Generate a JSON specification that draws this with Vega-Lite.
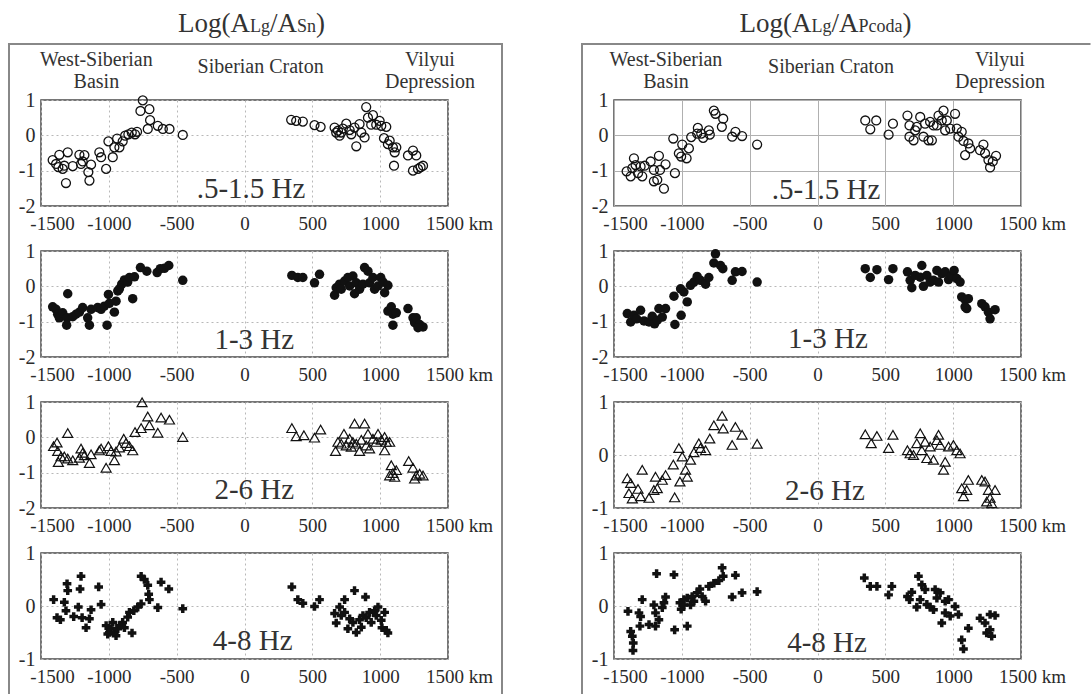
{
"$schema": "https://vega.github.io/schema/vega-lite/v6.json",
"autosize": {"type": "pad"},
"padding": 0,
"background": "white",
"datasets": {
"sn1": [{"d":-1414,"v":-0.70},{"d":-1389,"v":-0.81},{"d":-1372,"v":-0.90},{"d":-1340,"v":-0.95},{"d":-1316,"v":-1.35},{"d":-1365,"v":-0.55},{"d":-1303,"v":-0.48},{"d":-1328,"v":-0.86},{"d":-1266,"v":-0.87},{"d":-1217,"v":-0.55},{"d":-1205,"v":-0.81},{"d":-1180,"v":-0.56},{"d":-1193,"v":-0.74},{"d":-1151,"v":-1.04},{"d":-1143,"v":-1.28},{"d":-1131,"v":-0.83},{"d":-1070,"v":-0.48},{"d":-1057,"v":-0.62},{"d":-1020,"v":-0.95},{"d":-1003,"v":-0.17},{"d":-971,"v":-0.62},{"d":-959,"v":-0.34},{"d":-939,"v":-0.09},{"d":-922,"v":-0.34},{"d":-898,"v":-0.17},{"d":-880,"v":-0.01},{"d":-856,"v":0.03},{"d":-831,"v":0.08},{"d":-807,"v":0.03},{"d":-792,"v":0.10},{"d":-767,"v":0.69},{"d":-750,"v":0.99},{"d":-701,"v":0.74},{"d":-713,"v":0.18},{"d":-696,"v":0.43},{"d":-639,"v":0.27},{"d":-602,"v":0.18},{"d":-553,"v":0.18},{"d":-455,"v":0.01},{"d":344,"v":0.44},{"d":381,"v":0.41},{"d":430,"v":0.39},{"d":516,"v":0.29},{"d":561,"v":0.24},{"d":664,"v":0.22},{"d":689,"v":0.13},{"d":701,"v":-0.01},{"d":725,"v":0.19},{"d":750,"v":0.33},{"d":775,"v":0.15},{"d":787,"v":0.03},{"d":811,"v":0.22},{"d":824,"v":-0.31},{"d":848,"v":0.32},{"d":861,"v":0.08},{"d":885,"v":-0.06},{"d":897,"v":0.80},{"d":910,"v":0.50},{"d":934,"v":0.30},{"d":947,"v":0.57},{"d":971,"v":0.30},{"d":996,"v":0.41},{"d":1008,"v":0.27},{"d":1028,"v":-0.08},{"d":1045,"v":0.24},{"d":1057,"v":-0.25},{"d":1070,"v":-0.15},{"d":1094,"v":-0.34},{"d":1107,"v":-0.48},{"d":1102,"v":-0.86},{"d":1119,"v":-0.34},{"d":1205,"v":-0.57},{"d":1242,"v":-0.43},{"d":1266,"v":-0.57},{"d":1242,"v":-1.00},{"d":1279,"v":-0.95},{"d":1298,"v":-0.90},{"d":1316,"v":-0.86},{"d":713,"v":0.08},{"d":676,"v":0.08}],
"sn2": [{"d":-1414,"v":-0.58},{"d":-1389,"v":-0.65},{"d":-1377,"v":-0.79},{"d":-1365,"v":-0.89},{"d":-1340,"v":-0.75},{"d":-1308,"v":-0.89},{"d":-1303,"v":-0.21},{"d":-1311,"v":-1.10},{"d":-1266,"v":-0.86},{"d":-1242,"v":-0.79},{"d":-1217,"v":-0.73},{"d":-1193,"v":-0.60},{"d":-1156,"v":-0.89},{"d":-1143,"v":-1.10},{"d":-1131,"v":-0.65},{"d":-1082,"v":-0.60},{"d":-1057,"v":-0.65},{"d":-1033,"v":-0.56},{"d":-1013,"v":-1.10},{"d":-1003,"v":-0.23},{"d":-996,"v":-0.48},{"d":-959,"v":-0.73},{"d":-947,"v":-0.42},{"d":-934,"v":-0.13},{"d":-922,"v":-0.07},{"d":-905,"v":0.06},{"d":-885,"v":0.18},{"d":-861,"v":0.12},{"d":-848,"v":0.25},{"d":-824,"v":-0.35},{"d":-811,"v":0.27},{"d":-767,"v":0.53},{"d":-720,"v":0.43},{"d":-644,"v":0.39},{"d":-620,"v":0.50},{"d":-590,"v":0.51},{"d":-558,"v":0.59},{"d":-455,"v":0.17},{"d":349,"v":0.31},{"d":393,"v":0.25},{"d":430,"v":0.25},{"d":516,"v":0.10},{"d":553,"v":0.34},{"d":664,"v":-0.25},{"d":676,"v":-0.04},{"d":701,"v":0.06},{"d":713,"v":-0.08},{"d":738,"v":0.15},{"d":762,"v":0.25},{"d":775,"v":0.01},{"d":799,"v":0.29},{"d":811,"v":-0.21},{"d":824,"v":0.10},{"d":848,"v":-0.08},{"d":873,"v":0.06},{"d":885,"v":0.53},{"d":910,"v":0.43},{"d":922,"v":0.10},{"d":947,"v":0.25},{"d":959,"v":-0.08},{"d":984,"v":0.01},{"d":1004,"v":0.25},{"d":1021,"v":0.12},{"d":1033,"v":-0.18},{"d":1057,"v":0.03},{"d":1057,"v":-0.70},{"d":1082,"v":-0.58},{"d":1094,"v":-0.79},{"d":1094,"v":-1.10},{"d":1119,"v":-0.75},{"d":1205,"v":-0.63},{"d":1242,"v":-0.89},{"d":1254,"v":-1.03},{"d":1266,"v":-0.89},{"d":1291,"v":-1.08},{"d":1316,"v":-1.15},{"d":1279,"v":-1.17}],
"sn3": [{"d":-1407,"v":-0.25},{"d":-1382,"v":-0.15},{"d":-1377,"v":-0.39},{"d":-1352,"v":-0.54},{"d":-1372,"v":-0.70},{"d":-1303,"v":0.12},{"d":-1328,"v":-0.54},{"d":-1303,"v":-0.60},{"d":-1266,"v":-0.65},{"d":-1217,"v":-0.58},{"d":-1205,"v":-0.32},{"d":-1180,"v":-0.51},{"d":-1193,"v":-0.44},{"d":-1143,"v":-0.73},{"d":-1131,"v":-0.48},{"d":-1070,"v":-0.37},{"d":-1057,"v":-0.32},{"d":-1020,"v":-0.86},{"d":-1003,"v":-0.25},{"d":-984,"v":-0.39},{"d":-959,"v":-0.65},{"d":-947,"v":-0.40},{"d":-922,"v":-0.29},{"d":-890,"v":-0.04},{"d":-873,"v":-0.16},{"d":-824,"v":-0.37},{"d":-848,"v":-0.25},{"d":-807,"v":0.15},{"d":-762,"v":0.26},{"d":-755,"v":0.99},{"d":-713,"v":0.59},{"d":-701,"v":0.34},{"d":-639,"v":0.13},{"d":-615,"v":0.56},{"d":-553,"v":0.50},{"d":-455,"v":0.01},{"d":349,"v":0.26},{"d":381,"v":0.03},{"d":438,"v":0.06},{"d":516,"v":-0.01},{"d":561,"v":0.22},{"d":671,"v":-0.39},{"d":689,"v":-0.13},{"d":713,"v":-0.18},{"d":733,"v":0.10},{"d":750,"v":-0.23},{"d":775,"v":-0.04},{"d":787,"v":-0.27},{"d":811,"v":0.39},{"d":824,"v":-0.18},{"d":848,"v":-0.39},{"d":861,"v":-0.07},{"d":885,"v":0.39},{"d":897,"v":-0.23},{"d":910,"v":0.10},{"d":922,"v":-0.32},{"d":947,"v":-0.04},{"d":971,"v":-0.13},{"d":984,"v":0.10},{"d":1008,"v":-0.07},{"d":1033,"v":-0.37},{"d":1045,"v":-0.13},{"d":1070,"v":-0.13},{"d":1082,"v":-0.79},{"d":1094,"v":-1.01},{"d":1119,"v":-0.93},{"d":1070,"v":-1.08},{"d":1107,"v":-1.12},{"d":1210,"v":-0.67},{"d":1242,"v":-0.86},{"d":1266,"v":-1.08},{"d":1291,"v":-1.03},{"d":1316,"v":-1.08},{"d":1254,"v":-1.17},{"d":1033,"v":0.01},{"d":799,"v":-0.13}],
"sn4": [{"d":-1407,"v":0.12},{"d":-1382,"v":-0.22},{"d":-1357,"v":-0.26},{"d":-1328,"v":0.07},{"d":-1308,"v":0.42},{"d":-1303,"v":0.29},{"d":-1316,"v":-0.09},{"d":-1259,"v":-0.20},{"d":-1225,"v":-0.02},{"d":-1205,"v":0.56},{"d":-1212,"v":0.32},{"d":-1197,"v":-0.22},{"d":-1168,"v":-0.41},{"d":-1143,"v":-0.24},{"d":-1131,"v":-0.07},{"d":-1075,"v":0.36},{"d":-1057,"v":0.03},{"d":-1020,"v":-0.37},{"d":-1008,"v":-0.53},{"d":-984,"v":-0.43},{"d":-971,"v":-0.31},{"d":-959,"v":-0.50},{"d":-934,"v":-0.43},{"d":-922,"v":-0.37},{"d":-898,"v":-0.31},{"d":-885,"v":-0.41},{"d":-861,"v":-0.21},{"d":-848,"v":-0.12},{"d":-829,"v":-0.51},{"d":-816,"v":-0.09},{"d":-787,"v":-0.02},{"d":-762,"v":0.04},{"d":-762,"v":0.56},{"d":-738,"v":0.50},{"d":-713,"v":0.39},{"d":-706,"v":0.22},{"d":-701,"v":0.12},{"d":-639,"v":-0.03},{"d":-615,"v":0.45},{"d":-558,"v":0.32},{"d":-455,"v":-0.05},{"d":-996,"v":-0.50},{"d":-947,"v":-0.56},{"d":349,"v":0.36},{"d":393,"v":0.12},{"d":430,"v":0.05},{"d":516,"v":-0.01},{"d":553,"v":0.12},{"d":664,"v":-0.14},{"d":676,"v":-0.32},{"d":701,"v":-0.02},{"d":713,"v":-0.18},{"d":738,"v":0.12},{"d":762,"v":-0.43},{"d":775,"v":-0.24},{"d":799,"v":-0.31},{"d":811,"v":0.29},{"d":824,"v":-0.50},{"d":848,"v":-0.26},{"d":861,"v":-0.40},{"d":873,"v":-0.18},{"d":892,"v":0.17},{"d":897,"v":-0.22},{"d":922,"v":-0.12},{"d":934,"v":-0.31},{"d":959,"v":-0.09},{"d":984,"v":-0.02},{"d":1008,"v":-0.27},{"d":1033,"v":-0.12},{"d":1013,"v":-0.41},{"d":1045,"v":-0.46},{"d":1057,"v":-0.51},{"d":971,"v":-0.18},{"d":738,"v":-0.12}],
"pc1": [{"d":-1407,"v":-1.02},{"d":-1377,"v":-1.16},{"d":-1365,"v":-0.93},{"d":-1353,"v":-0.65},{"d":-1341,"v":-0.84},{"d":-1323,"v":-1.07},{"d":-1304,"v":-0.88},{"d":-1292,"v":-1.16},{"d":-1274,"v":-0.86},{"d":-1230,"v":-0.74},{"d":-1206,"v":-0.98},{"d":-1206,"v":-1.30},{"d":-1181,"v":-1.26},{"d":-1169,"v":-0.58},{"d":-1161,"v":-0.98},{"d":-1132,"v":-1.51},{"d":-1120,"v":-0.82},{"d":-1051,"v":-1.07},{"d":-1063,"v":-0.09},{"d":-1022,"v":-0.51},{"d":-997,"v":-0.26},{"d":-1005,"v":-0.60},{"d":-965,"v":-0.65},{"d":-948,"v":-0.37},{"d":-931,"v":-0.05},{"d":-887,"v":0.05},{"d":-882,"v":0.21},{"d":-857,"v":0.05},{"d":-843,"v":-0.07},{"d":-794,"v":0.02},{"d":-801,"v":0.14},{"d":-764,"v":0.70},{"d":-752,"v":0.61},{"d":-695,"v":0.47},{"d":-705,"v":0.24},{"d":-629,"v":-0.04},{"d":-605,"v":0.10},{"d":-556,"v":-0.02},{"d":-445,"v":-0.26},{"d":352,"v":0.42},{"d":389,"v":0.17},{"d":433,"v":0.42},{"d":524,"v":0.02},{"d":556,"v":0.33},{"d":663,"v":0.56},{"d":678,"v":0.28},{"d":678,"v":-0.04},{"d":708,"v":-0.14},{"d":720,"v":0.14},{"d":757,"v":0.52},{"d":781,"v":-0.04},{"d":793,"v":0.33},{"d":818,"v":-0.14},{"d":843,"v":-0.14},{"d":830,"v":0.38},{"d":855,"v":0.28},{"d":892,"v":0.56},{"d":916,"v":0.42},{"d":929,"v":0.70},{"d":953,"v":0.42},{"d":941,"v":0.14},{"d":978,"v":0.19},{"d":1014,"v":0.61},{"d":1027,"v":0.19},{"d":1039,"v":-0.04},{"d":1063,"v":0.10},{"d":1076,"v":-0.16},{"d":1088,"v":-0.56},{"d":1112,"v":-0.23},{"d":1125,"v":-0.37},{"d":1198,"v":-0.42},{"d":1223,"v":-0.26},{"d":1235,"v":-0.51},{"d":1260,"v":-0.70},{"d":1272,"v":-0.91},{"d":1292,"v":-0.74},{"d":1316,"v":-0.58},{"d":732,"v":0.24},{"d":880,"v":0.28}],
"pc2": [{"d":-1402,"v":-0.77},{"d":-1377,"v":-1.01},{"d":-1353,"v":-0.82},{"d":-1333,"v":-0.92},{"d":-1304,"v":-0.68},{"d":-1279,"v":-0.98},{"d":-1242,"v":-1.01},{"d":-1218,"v":-0.85},{"d":-1201,"v":-1.06},{"d":-1181,"v":-0.96},{"d":-1169,"v":-0.63},{"d":-1144,"v":-0.87},{"d":-1120,"v":-0.63},{"d":-1058,"v":-0.28},{"d":-1051,"v":-1.08},{"d":-1009,"v":-0.07},{"d":-1005,"v":-0.82},{"d":-985,"v":-0.16},{"d":-960,"v":-0.44},{"d":-936,"v":0.03},{"d":-911,"v":0.12},{"d":-887,"v":0.28},{"d":-863,"v":0.17},{"d":-825,"v":0.06},{"d":-801,"v":0.25},{"d":-752,"v":0.92},{"d":-764,"v":0.66},{"d":-715,"v":0.59},{"d":-698,"v":0.50},{"d":-629,"v":0.17},{"d":-605,"v":0.41},{"d":-556,"v":0.42},{"d":-445,"v":0.12},{"d":352,"v":0.50},{"d":389,"v":0.25},{"d":438,"v":0.47},{"d":524,"v":0.19},{"d":556,"v":0.50},{"d":663,"v":0.41},{"d":683,"v":0.17},{"d":695,"v":-0.04},{"d":720,"v":0.31},{"d":757,"v":0.26},{"d":769,"v":0.59},{"d":781,"v":0.00},{"d":806,"v":0.31},{"d":830,"v":0.12},{"d":855,"v":0.17},{"d":880,"v":0.45},{"d":892,"v":0.12},{"d":916,"v":0.36},{"d":941,"v":0.41},{"d":966,"v":0.19},{"d":990,"v":0.31},{"d":1007,"v":0.45},{"d":1027,"v":0.22},{"d":1051,"v":0.12},{"d":1063,"v":-0.30},{"d":1088,"v":-0.38},{"d":1100,"v":-0.63},{"d":1112,"v":-0.35},{"d":1211,"v":-0.49},{"d":1235,"v":-0.58},{"d":1260,"v":-0.73},{"d":1272,"v":-0.92},{"d":1309,"v":-0.66},{"d":1088,"v":-0.58}],
"pc3": [{"d":-1402,"v":-0.44},{"d":-1377,"v":-0.53},{"d":-1390,"v":-0.72},{"d":-1365,"v":-0.82},{"d":-1323,"v":-0.64},{"d":-1292,"v":-0.28},{"d":-1304,"v":-0.78},{"d":-1242,"v":-0.81},{"d":-1206,"v":-0.66},{"d":-1194,"v":-0.41},{"d":-1181,"v":-0.63},{"d":-1144,"v":-0.47},{"d":-1120,"v":-0.38},{"d":-1063,"v":-0.18},{"d":-1053,"v":-0.80},{"d":-1022,"v":0.13},{"d":-1014,"v":-0.50},{"d":-997,"v":-0.03},{"d":-973,"v":-0.28},{"d":-960,"v":-0.41},{"d":-936,"v":-0.09},{"d":-911,"v":0.05},{"d":-875,"v":0.22},{"d":-863,"v":0.13},{"d":-825,"v":0.09},{"d":-794,"v":0.31},{"d":-764,"v":0.56},{"d":-703,"v":0.74},{"d":-695,"v":0.50},{"d":-605,"v":0.53},{"d":-629,"v":0.19},{"d":-556,"v":0.38},{"d":-445,"v":0.21},{"d":352,"v":0.39},{"d":396,"v":0.22},{"d":438,"v":0.36},{"d":524,"v":0.13},{"d":556,"v":0.38},{"d":663,"v":0.09},{"d":683,"v":0.03},{"d":708,"v":0.00},{"d":732,"v":0.22},{"d":757,"v":0.41},{"d":769,"v":0.09},{"d":793,"v":0.25},{"d":806,"v":-0.06},{"d":830,"v":0.16},{"d":855,"v":-0.09},{"d":880,"v":0.28},{"d":892,"v":0.38},{"d":904,"v":0.19},{"d":929,"v":-0.28},{"d":941,"v":-0.13},{"d":966,"v":0.16},{"d":1002,"v":0.19},{"d":1027,"v":0.09},{"d":1051,"v":0.03},{"d":1063,"v":-0.63},{"d":1076,"v":-0.78},{"d":1112,"v":-0.47},{"d":1100,"v":-0.66},{"d":1211,"v":-0.47},{"d":1235,"v":-0.50},{"d":1260,"v":-0.66},{"d":1272,"v":-0.81},{"d":1284,"v":-0.91},{"d":1309,"v":-0.66},{"d":1247,"v":-0.88}],
"pc4": [{"d":-1397,"v":-0.10},{"d":-1377,"v":-0.48},{"d":-1365,"v":-0.57},{"d":-1358,"v":-0.70},{"d":-1360,"v":-0.84},{"d":-1316,"v":-0.13},{"d":-1304,"v":-0.20},{"d":-1292,"v":0.12},{"d":-1309,"v":-0.38},{"d":-1242,"v":-0.35},{"d":-1206,"v":0.02},{"d":-1194,"v":-0.13},{"d":-1186,"v":0.61},{"d":-1194,"v":-0.38},{"d":-1169,"v":-0.26},{"d":-1144,"v":-0.03},{"d":-1120,"v":0.17},{"d":-1132,"v":0.06},{"d":-1058,"v":0.59},{"d":-1053,"v":-0.45},{"d":-960,"v":-0.38},{"d":-1014,"v":0.06},{"d":-1005,"v":-0.06},{"d":-985,"v":0.02},{"d":-960,"v":0.15},{"d":-936,"v":0.02},{"d":-924,"v":0.18},{"d":-887,"v":0.25},{"d":-867,"v":0.32},{"d":-850,"v":0.18},{"d":-825,"v":0.09},{"d":-801,"v":0.37},{"d":-764,"v":0.43},{"d":-727,"v":0.48},{"d":-703,"v":0.72},{"d":-695,"v":0.56},{"d":-629,"v":0.17},{"d":-605,"v":0.58},{"d":-556,"v":0.25},{"d":-445,"v":0.27},{"d":-985,"v":0.12},{"d":-911,"v":0.09},{"d":345,"v":0.53},{"d":389,"v":0.37},{"d":438,"v":0.37},{"d":524,"v":0.21},{"d":548,"v":0.37},{"d":663,"v":0.18},{"d":678,"v":0.12},{"d":695,"v":0.26},{"d":732,"v":-0.02},{"d":744,"v":0.56},{"d":757,"v":0.12},{"d":769,"v":0.40},{"d":793,"v":0.31},{"d":806,"v":0.03},{"d":830,"v":-0.02},{"d":855,"v":-0.07},{"d":867,"v":0.31},{"d":880,"v":0.15},{"d":904,"v":0.25},{"d":916,"v":-0.32},{"d":941,"v":-0.13},{"d":966,"v":0.12},{"d":978,"v":-0.19},{"d":1014,"v":-0.01},{"d":1039,"v":-0.16},{"d":1063,"v":-0.64},{"d":1076,"v":-0.81},{"d":1112,"v":-0.42},{"d":1198,"v":-0.23},{"d":1235,"v":-0.32},{"d":1247,"v":-0.51},{"d":1272,"v":-0.45},{"d":1284,"v":-0.57},{"d":1309,"v":-0.18},{"d":1272,"v":-0.16},{"d":941,"v":0.09}]
},
"concat": [
{"width":407,"height":106,"layer":[
 {"data":{"name":"sn1"},"mark":{"type":"point","shape":"circle","filled":false,"stroke":"#111","strokeWidth":1.3,"size":80,"opacity":1},
  "encoding":{"x":{"field":"d","type":"quantitative","title":null,"scale":{"domain":[-1500,1500],"nice":false,"zero":false},"axis":{"values":[-1500,-1000,-500,0,500,1000,1500],"labelExpr":"datum.value == 1500 ? '1500 km' : '' + datum.value","labelOffset":{"condition":{"test":"abs(datum.value) == 1500","value":11},"value":0}}},
   "y":{"field":"v","type":"quantitative","title":null,"scale":{"domain":[-2,1],"nice":false,"zero":false},"axis":{"values":[-2,-1,0,1],"labelExpr":"'' + datum.value"}}}},
 {"data":{"values":[{}]},"mark":{"type":"text","text":".5-1.5 Hz","fontSize":29},"encoding":{"x":{"datum":48},"y":{"datum":-1.774}}},
 {"data":{"values":[{}]},"mark":{"type":"text","text":["West-Siberian","Basin"],"fontSize":20,"lineHeight":22},"encoding":{"x":{"datum":-1092},"y":{"datum":1.962}}},
 {"data":{"values":[{}]},"mark":{"type":"text","text":"Siberian Craton","fontSize":20},"encoding":{"x":{"datum":119},"y":{"datum":1.773}}},
 {"data":{"values":[{}]},"mark":{"type":"text","text":["Vilyui","Depression"],"fontSize":20,"lineHeight":22},"encoding":{"x":{"datum":1367},"y":{"datum":1.962}}},
 {"data":{"values":[{}]},"mark":{"type":"text","text":"Log(A","fontSize":27,"align":"left"},"encoding":{"x":{"datum":-490},"y":{"datum":2.925}}},
 {"data":{"values":[{}]},"mark":{"type":"text","text":"Lg","fontSize":18,"align":"left"},"encoding":{"x":{"datum":40},"y":{"datum":2.925}}},
 {"data":{"values":[{}]},"mark":{"type":"text","text":"/A","fontSize":27,"align":"left"},"encoding":{"x":{"datum":188},"y":{"datum":2.925}}},
 {"data":{"values":[{}]},"mark":{"type":"text","text":"Sn","fontSize":18,"align":"left"},"encoding":{"x":{"datum":387},"y":{"datum":2.925}}},
 {"data":{"values":[{}]},"mark":{"type":"text","text":")","fontSize":27,"align":"left"},"encoding":{"x":{"datum":527},"y":{"datum":2.925}}},
 {"data":{"values":[{}]},"mark":"rule","encoding":{"x":{"datum":-1736},"y":{"datum":2.585},"y2":{"datum":-2.651}}},
 {"data":{"values":[{}]},"mark":"rule","encoding":{"x":{"datum":1898},"y":{"datum":2.585},"y2":{"datum":-2.651}}},
 {"data":{"values":[{}]},"mark":"rule","encoding":{"x":{"datum":-1736},"x2":{"datum":1898},"y":{"datum":2.585}}},
 {"data":{"values":[{}]},"mark":{"type":"rule","color":"white","strokeWidth":0.2,"strokeCap":"butt"},"encoding":{"x":{"datum":-1795},"x2":{"datum":-1790},"y":{"datum":3.802}}}
]},
{"width":407,"height":106,"layer":[
 {"data":{"name":"pc1"},"mark":{"type":"point","shape":"circle","filled":false,"stroke":"#111","strokeWidth":1.3,"size":80,"opacity":1},
  "encoding":{"x":{"field":"d","type":"quantitative","title":null,"scale":{"domain":[-1500,1500],"nice":false,"zero":false},"axis":{"values":[-1500,-1000,-500,0,500,1000,1500],"gridDash":[],"gridColor":"#b0b0b0","labelExpr":"datum.value == 1500 ? '1500 km' : '' + datum.value","labelOffset":{"condition":{"test":"abs(datum.value) == 1500","value":11},"value":0}}},
   "y":{"field":"v","type":"quantitative","title":null,"scale":{"domain":[-2,1],"nice":false,"zero":false},"axis":{"values":[-2,-1,0,1],"gridDash":[],"gridColor":"#b0b0b0","labelExpr":"'' + datum.value"}}}},
 {"data":{"values":[{}]},"mark":{"type":"text","text":".5-1.5 Hz","fontSize":29},"encoding":{"x":{"datum":63},"y":{"datum":-1.79}}},
 {"data":{"values":[{}]},"mark":{"type":"text","text":["West-Siberian","Basin"],"fontSize":20,"lineHeight":22},"encoding":{"x":{"datum":-1117},"y":{"datum":1.962}}},
 {"data":{"values":[{}]},"mark":{"type":"text","text":"Siberian Craton","fontSize":20},"encoding":{"x":{"datum":100},"y":{"datum":1.773}}},
 {"data":{"values":[{}]},"mark":{"type":"text","text":["Vilyui","Depression"],"fontSize":20,"lineHeight":22},"encoding":{"x":{"datum":1345},"y":{"datum":1.962}}},
 {"data":{"values":[{}]},"mark":{"type":"text","text":"Log(A","fontSize":27,"align":"left"},"encoding":{"x":{"datum":-575},"y":{"datum":2.925}}},
 {"data":{"values":[{}]},"mark":{"type":"text","text":"Lg","fontSize":18,"align":"left"},"encoding":{"x":{"datum":-44},"y":{"datum":2.925}}},
 {"data":{"values":[{}]},"mark":{"type":"text","text":"/A","fontSize":27,"align":"left"},"encoding":{"x":{"datum":103},"y":{"datum":2.925}}},
 {"data":{"values":[{}]},"mark":{"type":"text","text":"Pcoda","fontSize":18,"align":"left"},"encoding":{"x":{"datum":302},"y":{"datum":2.925}}},
 {"data":{"values":[{}]},"mark":{"type":"text","text":")","fontSize":27,"align":"left"},"encoding":{"x":{"datum":627},"y":{"datum":2.925}}},
 {"data":{"values":[{}]},"mark":"rule","encoding":{"x":{"datum":-1736},"y":{"datum":2.585},"y2":{"datum":-2.651}}},
 {"data":{"values":[{}]},"mark":"rule","encoding":{"x":{"datum":-1736},"x2":{"datum":2005},"y":{"datum":2.585}}}
]},
{"width":407,"height":106,"layer":[
 {"data":{"name":"sn2"},"mark":{"type":"point","shape":"circle","filled":true,"fill":"#111","size":90,"opacity":1},
  "encoding":{"x":{"field":"d","type":"quantitative","title":null,"scale":{"domain":[-1500,1500],"nice":false,"zero":false},"axis":{"values":[-1500,-1000,-500,0,500,1000,1500],"labelExpr":"datum.value == 1500 ? '1500 km' : '' + datum.value","labelOffset":{"condition":{"test":"abs(datum.value) == 1500","value":11},"value":0}}},
   "y":{"field":"v","type":"quantitative","title":null,"scale":{"domain":[-2,1],"nice":false,"zero":false},"axis":{"values":[-2,-1,0,1],"labelExpr":"'' + datum.value"}}}},
 {"data":{"values":[{}]},"mark":{"type":"text","text":"1-3 Hz","fontSize":29},"encoding":{"x":{"datum":72},"y":{"datum":-1.774}}},
 {"data":{"values":[{}]},"mark":"rule","encoding":{"x":{"datum":-1736},"y":{"datum":1.651},"y2":{"datum":-2.651}}},
 {"data":{"values":[{}]},"mark":"rule","encoding":{"x":{"datum":1898},"y":{"datum":1.651},"y2":{"datum":-2.651}}}
]},
{"width":407,"height":106,"layer":[
 {"data":{"name":"pc2"},"mark":{"type":"point","shape":"circle","filled":true,"fill":"#111","size":90,"opacity":1},
  "encoding":{"x":{"field":"d","type":"quantitative","title":null,"scale":{"domain":[-1500,1500],"nice":false,"zero":false},"axis":{"values":[-1500,-1000,-500,0,500,1000,1500],"labelExpr":"datum.value == 1500 ? '1500 km' : '' + datum.value","labelOffset":{"condition":{"test":"abs(datum.value) == 1500","value":11},"value":0}}},
   "y":{"field":"v","type":"quantitative","title":null,"scale":{"domain":[-2,1],"nice":false,"zero":false},"axis":{"values":[-2,-1,0,1],"labelExpr":"'' + datum.value"}}}},
 {"data":{"values":[{}]},"mark":{"type":"text","text":"1-3 Hz","fontSize":29},"encoding":{"x":{"datum":77},"y":{"datum":-1.745}}},
 {"data":{"values":[{}]},"mark":"rule","encoding":{"x":{"datum":-1736},"y":{"datum":1.651},"y2":{"datum":-2.651}}}
]},
{"width":407,"height":106,"layer":[
 {"data":{"name":"sn3"},"mark":{"type":"point","shape":"triangle-up","filled":false,"stroke":"#111","strokeWidth":1.2,"size":100,"opacity":1},
  "encoding":{"x":{"field":"d","type":"quantitative","title":null,"scale":{"domain":[-1500,1500],"nice":false,"zero":false},"axis":{"values":[-1500,-1000,-500,0,500,1000,1500],"labelExpr":"datum.value == 1500 ? '1500 km' : '' + datum.value","labelOffset":{"condition":{"test":"abs(datum.value) == 1500","value":11},"value":0}}},
   "y":{"field":"v","type":"quantitative","title":null,"scale":{"domain":[-2,1],"nice":false,"zero":false},"axis":{"values":[-2,-1,0,1],"labelExpr":"'' + datum.value"}}}},
 {"data":{"values":[{}]},"mark":{"type":"text","text":"2-6 Hz","fontSize":29},"encoding":{"x":{"datum":72},"y":{"datum":-1.75}}},
 {"data":{"values":[{}]},"mark":"rule","encoding":{"x":{"datum":-1736},"y":{"datum":1.651},"y2":{"datum":-2.651}}},
 {"data":{"values":[{}]},"mark":"rule","encoding":{"x":{"datum":1898},"y":{"datum":1.651},"y2":{"datum":-2.651}}}
]},
{"width":407,"height":106,"layer":[
 {"data":{"name":"pc3"},"mark":{"type":"point","shape":"triangle-up","filled":false,"stroke":"#111","strokeWidth":1.2,"size":100,"opacity":1},
  "encoding":{"x":{"field":"d","type":"quantitative","title":null,"scale":{"domain":[-1500,1500],"nice":false,"zero":false},"axis":{"values":[-1500,-1000,-500,0,500,1000,1500],"labelExpr":"datum.value == 1500 ? '1500 km' : '' + datum.value","labelOffset":{"condition":{"test":"abs(datum.value) == 1500","value":11},"value":0}}},
   "y":{"field":"v","type":"quantitative","title":null,"scale":{"domain":[-1,1],"nice":false,"zero":false},"axis":{"values":[-1,0,1],"labelExpr":"'' + datum.value"}}}},
 {"data":{"values":[{}]},"mark":{"type":"text","text":"2-6 Hz","fontSize":29},"encoding":{"x":{"datum":55},"y":{"datum":-0.855}}},
 {"data":{"values":[{}]},"mark":"rule","encoding":{"x":{"datum":-1736},"y":{"datum":1.434},"y2":{"datum":-1.434}}}
]},
{"width":407,"height":106,"layer":[
 {"data":{"name":"sn4"},"mark":{"type":"point","shape":"cross","filled":true,"fill":"#111","size":75,"opacity":1},
  "encoding":{"x":{"field":"d","type":"quantitative","title":null,"scale":{"domain":[-1500,1500],"nice":false,"zero":false},"axis":{"values":[-1500,-1000,-500,0,500,1000,1500],"labelExpr":"datum.value == 1500 ? '1500 km' : '' + datum.value","labelOffset":{"condition":{"test":"abs(datum.value) == 1500","value":11},"value":0}}},
   "y":{"field":"v","type":"quantitative","title":null,"scale":{"domain":[-1,1],"nice":false,"zero":false},"axis":{"values":[-1,0,1],"labelExpr":"'' + datum.value"}}}},
 {"data":{"values":[{}]},"mark":{"type":"text","text":"4-8 Hz","fontSize":29},"encoding":{"x":{"datum":60},"y":{"datum":-0.83}}},
 {"data":{"values":[{}]},"mark":"rule","encoding":{"x":{"datum":-1736},"y":{"datum":1.434},"y2":{"datum":-1.642}}},
 {"data":{"values":[{}]},"mark":"rule","encoding":{"x":{"datum":1898},"y":{"datum":1.434},"y2":{"datum":-1.642}}}
]},
{"width":407,"height":106,"layer":[
 {"data":{"name":"pc4"},"mark":{"type":"point","shape":"cross","filled":true,"fill":"#111","size":75,"opacity":1},
  "encoding":{"x":{"field":"d","type":"quantitative","title":null,"scale":{"domain":[-1500,1500],"nice":false,"zero":false},"axis":{"values":[-1500,-1000,-500,0,500,1000,1500],"labelExpr":"datum.value == 1500 ? '1500 km' : '' + datum.value","labelOffset":{"condition":{"test":"abs(datum.value) == 1500","value":11},"value":0}}},
   "y":{"field":"v","type":"quantitative","title":null,"scale":{"domain":[-1,1],"nice":false,"zero":false},"axis":{"values":[-1,0,1],"labelExpr":"'' + datum.value"}}}},
 {"data":{"values":[{}]},"mark":{"type":"text","text":"4-8 Hz","fontSize":29},"encoding":{"x":{"datum":70},"y":{"datum":-0.874}}},
 {"data":{"values":[{}]},"mark":"rule","encoding":{"x":{"datum":-1736},"y":{"datum":1.434},"y2":{"datum":-1.642}}}
]}
],
"columns": 2,
"spacing": {"row": 45, "column": 166},
"bounds": "flush",
"config": {
 "view": {"stroke": "#4a4a4a", "strokeWidth": 1.5},
 "font": "Liberation Serif",
 "axis": {"domain": false, "ticks": false, "grid": true, "gridColor": "#b8b8b8", "gridDash": [2, 3], "gridWidth": 1, "labelFont": "Liberation Serif", "labelFontSize": 19, "labelColor": "#2a2a2a", "labelPadding": 8, "labelFlush": false, "labelOverlap": false, "labelBound": false, "tickCount": 20},
 "axisY": {"labelPadding": 6, "labelFontSize": 20},
 "text": {"font": "Liberation Serif", "color": "#333", "baseline": "alphabetic", "align": "center"},
 "rule": {"color": "#888", "strokeWidth": 2, "strokeCap": "square"}
}
}
